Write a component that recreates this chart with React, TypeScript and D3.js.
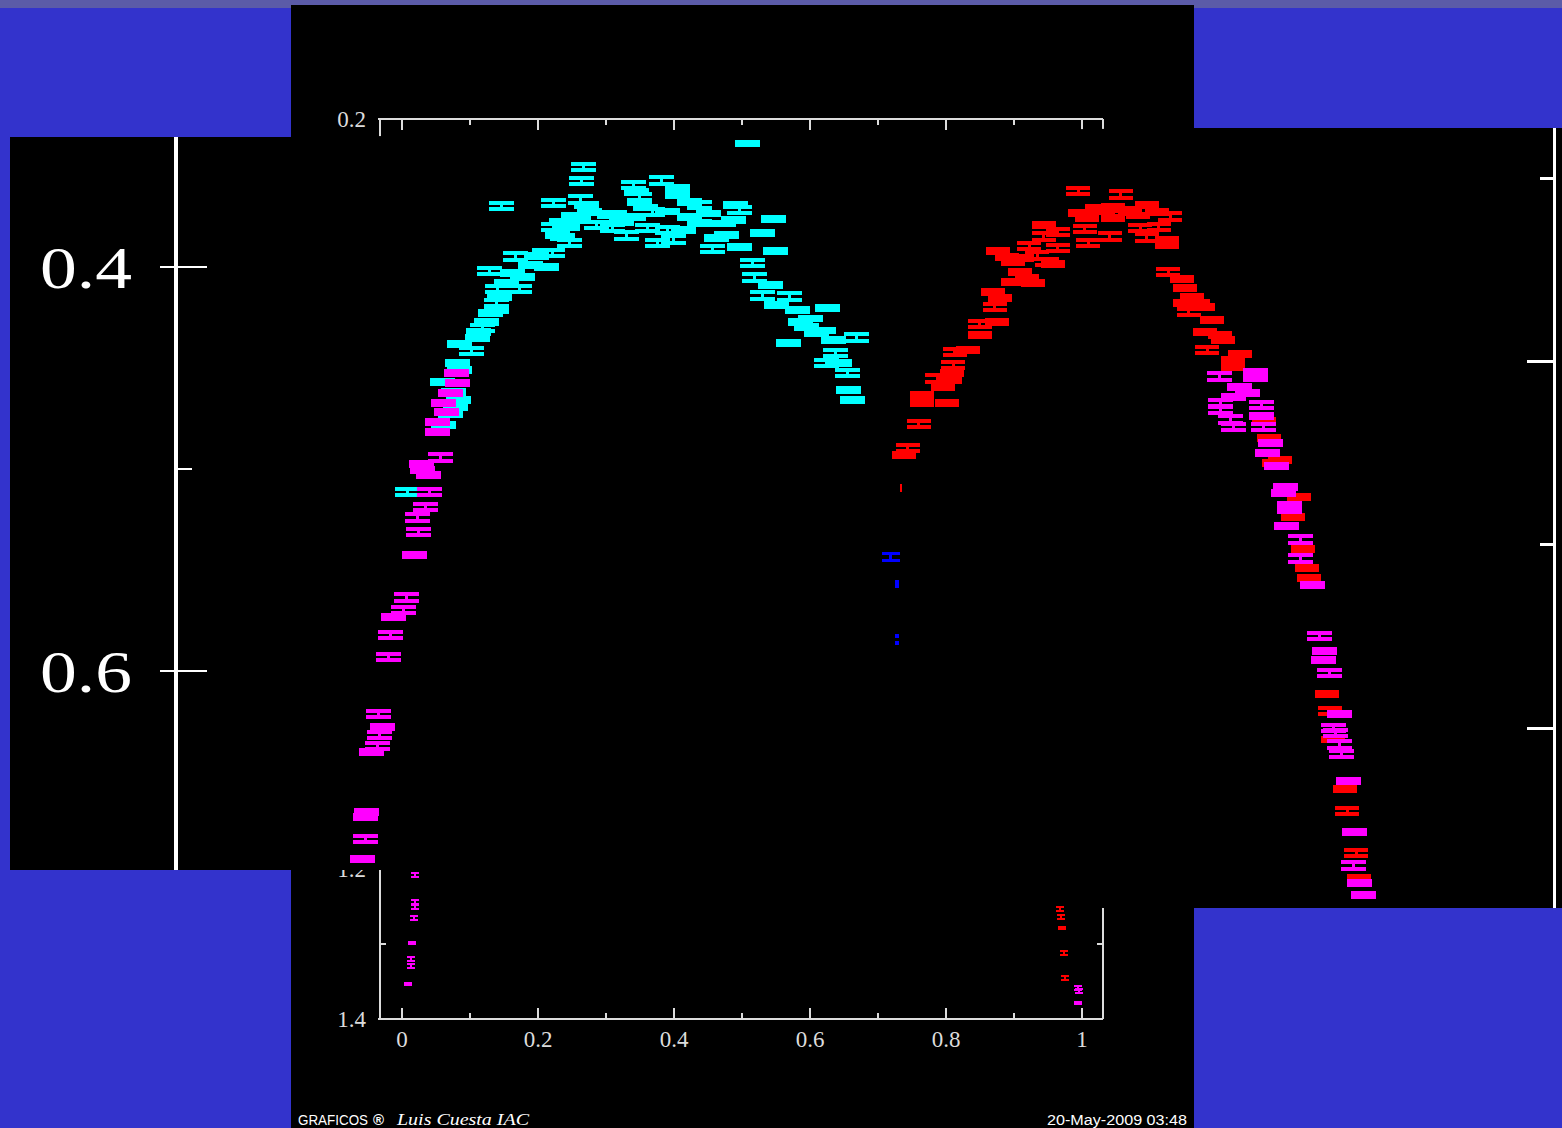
import React from "react";
import * as d3 from "d3";

const W = 1562;
const H = 1128;

type P = [number, number, number];

// Magnified light curve: [phase, magnitude, error]
const cyanPts: P[] = [
  [0.241, 0.3505, 0.0017], [0.239, 0.3574, 0.0017], [0.165, 0.3698, 0.0017], [0.213, 0.3683, 0.0017],
  [0.238, 0.3666, 0.0017], [0.244, 0.3693, 0.0008], [0.247, 0.3728, 0.0008], [0.236, 0.3767, 0.0008],
  [0.226, 0.3802, 0.0008], [0.253, 0.3792, 0.0017], [0.213, 0.3802, 0.0017], [0.217, 0.3842, 0.0008],
  [0.222, 0.3851, 0.0008], [0.228, 0.3881, 0.0017], [0.205, 0.3931, 0.0017], [0.212, 0.3931, 0.0017],
  [0.178, 0.395, 0.0017], [0.192, 0.399, 0.0008], [0.207, 0.4, 0.0008], [0.176, 0.403, 0.0008],
  [0.185, 0.405, 0.0008], [0.154, 0.402, 0.0017], [0.162, 0.4109, 0.0017], [0.182, 0.4109, 0.0017],
  [0.164, 0.4149, 0.0008], [0.161, 0.4178, 0.0017], [0.161, 0.4213, 0.0008], [0.155, 0.4228, 0.0008],
  [0.152, 0.4272, 0.0008], [0.148, 0.4302, 0.0017], [0.144, 0.4322, 0.0008], [0.143, 0.4351, 0.0008],
  [0.127, 0.4381, 0.0008], [0.138, 0.4416, 0.0017], [0.125, 0.4475, 0.0008], [0.127, 0.451, 0.0008],
  [0.111, 0.4569, 0.0008], [0.121, 0.4619, 0.0008], [0.126, 0.4658, 0.0008], [0.123, 0.4693, 0.0008],
  [0.118, 0.4728, 0.0008], [0.112, 0.4782, 0.0008], [0.079, 0.5114, 0.0017],
  [0.392, 0.339, 0.0008], [0.313, 0.357, 0.0017], [0.287, 0.3594, 0.0017], [0.29, 0.3629, 0.0008],
  [0.328, 0.3609, 0.0008], [0.328, 0.3644, 0.0008], [0.293, 0.3658, 0.0017], [0.293, 0.3678, 0.0008],
  [0.339, 0.3678, 0.0008], [0.348, 0.3693, 0.0017], [0.381, 0.3693, 0.0008], [0.385, 0.3718, 0.0017],
  [0.265, 0.3743, 0.0008], [0.287, 0.3752, 0.0008], [0.305, 0.3728, 0.0017], [0.339, 0.3752, 0.0008],
  [0.348, 0.3782, 0.0008], [0.379, 0.3767, 0.0008], [0.416, 0.3762, 0.0008], [0.268, 0.3807, 0.0017],
  [0.3, 0.3807, 0.0017], [0.318, 0.3817, 0.0017], [0.333, 0.3817, 0.0008], [0.281, 0.3842, 0.0017],
  [0.309, 0.3881, 0.0017], [0.324, 0.3866, 0.0017], [0.373, 0.3842, 0.0008], [0.364, 0.3856, 0.0008],
  [0.406, 0.3832, 0.0008], [0.36, 0.3911, 0.0017], [0.385, 0.3901, 0.0008], [0.418, 0.3921, 0.0008],
  [0.397, 0.398, 0.0017], [0.399, 0.4054, 0.0017], [0.413, 0.4089, 0.0008], [0.406, 0.4139, 0.0017],
  [0.431, 0.4144, 0.0017], [0.419, 0.4188, 0.0008], [0.438, 0.4213, 0.0008], [0.466, 0.4203, 0.0008],
  [0.441, 0.4272, 0.0008], [0.447, 0.4297, 0.0008], [0.456, 0.4327, 0.0008], [0.43, 0.4376, 0.0008],
  [0.471, 0.4361, 0.0008], [0.493, 0.4351, 0.0017], [0.473, 0.4426, 0.0017], [0.477, 0.4475, 0.0008],
  [0.465, 0.4475, 0.0017], [0.484, 0.4525, 0.0017], [0.485, 0.4609, 0.0008], [0.489, 0.4658, 0.0008],
  [0.232, 0.3745, 0.0008], [0.221, 0.3775, 0.0008], [0.276, 0.3778, 0.0008], [0.298, 0.3705, 0.0008],
  [0.318, 0.3725, 0.0008], [0.356, 0.3735, 0.0008], [0.37, 0.3785, 0.0008], [0.27, 0.3735, 0.0008],
  [0.198, 0.3945, 0.0008], [0.17, 0.4075, 0.0008], [0.45, 0.4255, 0.0008], [0.462, 0.4315, 0.0008],
];

const magentaPts: P[] = [
  [0.124, 0.4525, 0.0008], [0.125, 0.4574, 0.0008], [0.118, 0.4624, 0.0008], [0.112, 0.4673, 0.0008],
  [0.115, 0.4718, 0.0008], [0.106, 0.4767, 0.0008], [0.106, 0.4817, 0.0008], [0.109, 0.4941, 0.0017],
  [0.092, 0.4975, 0.0008], [0.093, 0.5005, 0.0008], [0.098, 0.503, 0.0008], [0.099, 0.5114, 0.0017],
  [0.095, 0.5188, 0.0017], [0.088, 0.5238, 0.0017], [0.089, 0.5312, 0.0017], [0.085, 0.5426, 0.0008],
  [0.078, 0.5634, 0.0017], [0.075, 0.5698, 0.0017], [0.066, 0.5733, 0.0008], [0.063, 0.5822, 0.0017],
  [0.061, 0.5931, 0.0017], [0.052, 0.6213, 0.0017], [0.056, 0.6277, 0.0008], [0.053, 0.6317, 0.0017],
  [0.051, 0.6371, 0.0017], [0.046, 0.6401, 0.0008], [0.041, 0.6698, 0.0008], [0.04, 0.6723, 0.0008],
  [0.04, 0.6832, 0.0017], [0.037, 0.6931, 0.0008],
  [0.827, 0.454, 0.0017], [0.86, 0.452, 0.0008], [0.86, 0.4549, 0.0008], [0.846, 0.4594, 0.0008],
  [0.853, 0.4624, 0.0008], [0.84, 0.4644, 0.0008], [0.828, 0.4673, 0.0017], [0.828, 0.4708, 0.0017],
  [0.866, 0.4683, 0.0017], [0.837, 0.4757, 0.0017], [0.84, 0.4792, 0.0017], [0.866, 0.4738, 0.0008],
  [0.868, 0.4792, 0.0017], [0.874, 0.4871, 0.0008], [0.871, 0.4921, 0.0008], [0.88, 0.4985, 0.0008],
  [0.888, 0.5089, 0.0008], [0.886, 0.5119, 0.0008], [0.892, 0.5178, 0.0008], [0.892, 0.5203, 0.0008],
  [0.889, 0.5282, 0.0008], [0.902, 0.5351, 0.0017], [0.902, 0.5441, 0.0017], [0.913, 0.5574, 0.0008],
  [0.919, 0.5827, 0.0017], [0.924, 0.5901, 0.0008], [0.923, 0.5946, 0.0008], [0.929, 0.601, 0.0017],
  [0.938, 0.6213, 0.0008], [0.932, 0.6282, 0.0017], [0.934, 0.6307, 0.0017], [0.938, 0.6366, 0.0017],
  [0.94, 0.6411, 0.0017], [0.946, 0.6544, 0.0008], [0.952, 0.6797, 0.0008], [0.951, 0.6965, 0.0017],
  [0.956, 0.705, 0.0008], [0.96, 0.7109, 0.0008],
];

const redPts: P[] = [
  [0.697, 0.3624, 0.0017], [0.736, 0.3639, 0.0017], [0.699, 0.3733, 0.0008], [0.714, 0.3708, 0.0008],
  [0.729, 0.3703, 0.0008], [0.745, 0.3728, 0.0008], [0.76, 0.3693, 0.0008], [0.77, 0.3728, 0.0008],
  [0.782, 0.3752, 0.0017], [0.705, 0.3757, 0.0008], [0.729, 0.3757, 0.0008], [0.771, 0.3802, 0.0017],
  [0.754, 0.3807, 0.0017], [0.76, 0.3856, 0.0017], [0.779, 0.3866, 0.0008], [0.779, 0.3891, 0.0008],
  [0.665, 0.3792, 0.0008], [0.678, 0.3827, 0.0017], [0.665, 0.3851, 0.0017], [0.703, 0.3812, 0.0017],
  [0.726, 0.3847, 0.0017], [0.706, 0.3881, 0.0017], [0.652, 0.3896, 0.0017], [0.678, 0.3906, 0.0017],
  [0.623, 0.3921, 0.0008], [0.631, 0.395, 0.0008], [0.637, 0.3975, 0.0008], [0.659, 0.3941, 0.0017],
  [0.668, 0.3975, 0.0017], [0.674, 0.3985, 0.0008], [0.643, 0.4025, 0.0008], [0.65, 0.4054, 0.0008],
  [0.655, 0.4079, 0.0008], [0.637, 0.4074, 0.0008], [0.618, 0.4124, 0.0008], [0.625, 0.4153, 0.0008],
  [0.62, 0.4198, 0.0017], [0.606, 0.4282, 0.0017], [0.622, 0.4272, 0.0008], [0.606, 0.4337, 0.0008],
  [0.595, 0.4411, 0.0008], [0.583, 0.4421, 0.0017], [0.582, 0.4485, 0.0017], [0.581, 0.4525, 0.0008],
  [0.579, 0.4559, 0.0008], [0.567, 0.4554, 0.0017], [0.572, 0.4594, 0.0008], [0.553, 0.4634, 0.0008],
  [0.553, 0.4673, 0.0008], [0.576, 0.4673, 0.0008], [0.55, 0.4777, 0.0017], [0.54, 0.4896, 0.0017],
  [0.536, 0.4931, 0.0008],
  [0.78, 0.4025, 0.0017], [0.793, 0.4059, 0.0008], [0.795, 0.4104, 0.0008], [0.802, 0.4149, 0.0008],
  [0.795, 0.4178, 0.0008], [0.799, 0.4223, 0.0017], [0.807, 0.4178, 0.0008], [0.812, 0.4198, 0.0008],
  [0.82, 0.4262, 0.0008], [0.814, 0.4322, 0.0008], [0.828, 0.4337, 0.0008], [0.83, 0.4361, 0.0008],
  [0.816, 0.4411, 0.0017], [0.846, 0.4431, 0.0008], [0.84, 0.446, 0.0008], [0.84, 0.4495, 0.0008],
  [0.868, 0.4762, 0.0008], [0.873, 0.4846, 0.0008], [0.883, 0.4955, 0.0008], [0.877, 0.497, 0.0008],
  [0.9, 0.5139, 0.0008], [0.895, 0.5238, 0.0008], [0.904, 0.5396, 0.0008], [0.908, 0.549, 0.0008],
  [0.91, 0.554, 0.0008], [0.926, 0.6114, 0.0008], [0.929, 0.6198, 0.0017], [0.932, 0.6341, 0.0008],
  [0.943, 0.6584, 0.0008], [0.945, 0.6693, 0.0017], [0.953, 0.6901, 0.0017], [0.956, 0.7025, 0.0008],
  [0.72, 0.3725, 0.0008], [0.738, 0.3715, 0.0008], [0.752, 0.3745, 0.0008], [0.645, 0.3955, 0.0008],
];

const redFaintPts: P[] = [[0.534, 0.5094, 0.0017]];
const bluePts: P[] = [[0.524, 0.5436, 0.0017]];
const blueFaintPts: P[] = [[0.53, 0.5569, 0.0015], [0.53, 0.5827, 0.0004], [0.53, 0.5861, 0.0006]];

// Full-range chart (bottom part): [phase, magnitude, error]
const baseMagentaPts: P[] = [
  [0.019, 1.208, 0.0027], [0.019, 1.244, 0.0027], [0.019, 1.251, 0.0027], [0.017, 1.265, 0.0027],
  [0.015, 1.299, 0.0012], [0.013, 1.32, 0.0027], [0.013, 1.329, 0.0027], [0.009, 1.353, 0.0012],
  [0.994, 1.359, 0.0027], [0.996, 1.363, 0.0027], [0.994, 1.379, 0.0012],
];
const baseRedPts: P[] = [
  [0.968, 1.253, 0.0027], [0.969, 1.264, 0.0027], [0.971, 1.279, 0.0012], [0.973, 1.312, 0.0027],
  [0.975, 1.345, 0.0027],
];

const baseXMajor = [0, 0.2, 0.4, 0.6, 0.8, 1];
const baseXLabels = ["0", "0.2", "0.4", "0.6", "0.8", "1"];
const baseXMinor = [0.1, 0.3, 0.5, 0.7, 0.9];
const baseYLabelVals = [0.2, 1.2, 1.4];
const baseYLabels = ["0.2", "1.2", "1.4"];
const baseYMinorLow = [1.3];

const zoomYMajor = [0.4, 0.6];
const zoomYLabels = ["0.4", "0.6"];
const zoomYMinor = [0.5];
const rightMajor = [0.4, 0.5];
const rightMinor = [0.35, 0.45];

// scales
const xZoom = d3.scaleLinear().domain([0, 1]).range([322, 1407]);
const yZoom = d3.scaleLinear().domain([0.4, 0.6]).range([267, 671]);
const yRight = d3.scaleLinear().domain([0.35, 0.5]).range([178, 728]);
const xBase = d3.scaleLinear().domain([0, 1]).range([402, 1082]);
const yBase = d3.scaleLinear().domain([0.2, 1.4]).range([119, 1019]);

const BLUE = "#3333cc";
const AX = "#dcdcdc";

function ErrBars({ pts, xs, ys, color, capW, sw, stemW }: any) {
  return (
    <g stroke={color} shapeRendering="crispEdges">
      {pts.map((d: P, i: number) => {
        const cx = xs(d[0]);
        const y1 = ys(d[1] - d[2]);
        const y2 = ys(d[1] + d[2]);
        return (
          <g key={i}>
            <line x1={cx - capW / 2} x2={cx + capW / 2} y1={y1} y2={y1} strokeWidth={sw} />
            <line x1={cx - capW / 2} x2={cx + capW / 2} y1={y2} y2={y2} strokeWidth={sw} />
            <line x1={cx} x2={cx} y1={y1 - sw / 2} y2={y2 + sw / 2} strokeWidth={stemW} />
          </g>
        );
      })}
    </g>
  );
}

export default function App() {
  const overlayPoly = [
    [10, 137], [291, 137], [1194, 128], [1562, 128], [1562, 908], [1194, 908], [1103, 908], [380, 870], [10, 870],
  ];
  return (
    <svg
      width={W}
      height={H}
      style={{ position: "fixed", left: 0, top: 0, display: "block" }}
      fontFamily="'Liberation Serif', serif"
    >
      <rect x={0} y={0} width={W} height={H} fill={BLUE} />
      <rect x={0} y={0} width={W} height={8} fill="#5b5ba8" />
      <rect x={291} y={5} width={903} height={H - 5} fill="#000" />

      {/* full-range chart frame */}
      <g stroke={AX} strokeWidth={1.5} shapeRendering="crispEdges">
        <line x1={378} x2={1103} y1={yBase(0.2)} y2={yBase(0.2)} />
        <line x1={378} x2={1103} y1={yBase(1.4)} y2={yBase(1.4)} />
        <line x1={380} x2={380} y1={yBase(0.2)} y2={yBase(1.4)} />
        <line x1={1103} x2={1103} y1={yBase(0.2)} y2={yBase(1.4)} />
        {baseXMajor.map((v) => (
          <g key={v}>
            <line x1={xBase(v)} x2={xBase(v)} y1={yBase(0.2)} y2={yBase(0.2) + 11} />
            <line x1={xBase(v)} x2={xBase(v)} y1={yBase(1.4)} y2={yBase(1.4) - 11} />
          </g>
        ))}
        {baseXMinor.map((v) => (
          <g key={v}>
            <line x1={xBase(v)} x2={xBase(v)} y1={yBase(0.2)} y2={yBase(0.2) + 6} />
            <line x1={xBase(v)} x2={xBase(v)} y1={yBase(1.4)} y2={yBase(1.4) - 6} />
          </g>
        ))}
        <line x1={380} x2={392} y1={yBase(1.2)} y2={yBase(1.2)} />
        {baseYMinorLow.map((v) => (
          <g key={v}>
            <line x1={380} x2={386} y1={yBase(v)} y2={yBase(v)} />
            <line x1={1097} x2={1103} y1={yBase(v)} y2={yBase(v)} />
          </g>
        ))}
      </g>
      <g fill={AX} fontSize={23}>
        {baseXMajor.map((v, i) => (
          <text key={v} x={xBase(v)} y={1047} textAnchor="middle">{baseXLabels[i]}</text>
        ))}
        {baseYLabelVals.map((v, i) => (
          <text key={v} x={366} y={yBase(v) + 8} textAnchor="end">{baseYLabels[i]}</text>
        ))}
      </g>
      <ErrBars pts={baseMagentaPts} xs={xBase} ys={yBase} color="#ff00ff" capW={8} sw={2} stemW={2} />
      <ErrBars pts={baseRedPts} xs={xBase} ys={yBase} color="#ff0000" capW={8} sw={2} stemW={2} />

      {/* magnified overlay */}
      <polygon points={overlayPoly.map((p) => p.join(",")).join(" ")} fill="#000" />
      <rect x={10} y={137} width={281} height={733} fill="#000" />
      <rect x={1194} y={128} width={368} height={780} fill="#000" />
      <g stroke="#fff" shapeRendering="crispEdges">
        <line x1={176} x2={176} y1={137} y2={870} strokeWidth={4} />
        {zoomYMajor.map((v) => (
          <line key={v} x1={160} x2={207} y1={yZoom(v)} y2={yZoom(v)} strokeWidth={2.5} />
        ))}
        {zoomYMinor.map((v) => (
          <line key={v} x1={178} x2={192} y1={yZoom(v)} y2={yZoom(v)} strokeWidth={2.5} />
        ))}
      </g>
      <g fill="#fff" fontSize={60}>
        {zoomYMajor.map((v, i) => (
          <text key={v} x={40} y={yZoom(v) + 21} textLength={92} lengthAdjust="spacingAndGlyphs">{zoomYLabels[i]}</text>
        ))}
      </g>
      <g stroke="#fff" shapeRendering="crispEdges">
        <line x1={1554.5} x2={1554.5} y1={128} y2={908} strokeWidth={3} />
        {rightMajor.map((v) => (
          <line key={v} x1={1527} x2={1553} y1={yRight(v)} y2={yRight(v)} strokeWidth={3} />
        ))}
        {rightMinor.map((v) => (
          <line key={v} x1={1540} x2={1553} y1={yRight(v)} y2={yRight(v)} strokeWidth={3} />
        ))}
      </g>

      <ErrBars pts={cyanPts} xs={xZoom} ys={yZoom} color="#00ffff" capW={25} sw={4} stemW={3} />
      <ErrBars pts={redPts} xs={xZoom} ys={yZoom} color="#ff0000" capW={24} sw={4} stemW={3} />
      <ErrBars pts={magentaPts} xs={xZoom} ys={yZoom} color="#ff00ff" capW={25} sw={4} stemW={3} />
      <ErrBars pts={redFaintPts} xs={xZoom} ys={yZoom} color="#ff0000" capW={2} sw={1} stemW={2} />
      <ErrBars pts={bluePts} xs={xZoom} ys={yZoom} color="#0000ff" capW={18} sw={3.5} stemW={3} />
      <ErrBars pts={blueFaintPts} xs={xZoom} ys={yZoom} color="#0000ff" capW={4} sw={2} stemW={4} />

      {/* footer */}
      <g fill="#fff">
        <text x={298} y={1125} fontSize={14} textLength={70} lengthAdjust="spacingAndGlyphs" fontFamily="'Liberation Sans', Arial, sans-serif">GRAFICOS</text>
        <text x={373} y={1125} fontSize={15} fontWeight="bold" fontFamily="'Liberation Sans', Arial, sans-serif">®</text>
        <text x={397} y={1125} fontSize={16} fontStyle="italic" textLength={132} lengthAdjust="spacingAndGlyphs">Luis Cuesta IAC</text>
        <text x={1047} y={1125} fontSize={14} textLength={140} lengthAdjust="spacingAndGlyphs" fontFamily="'Liberation Sans', Arial, sans-serif">20-May-2009 03:48</text>
      </g>
    </svg>
  );
}
